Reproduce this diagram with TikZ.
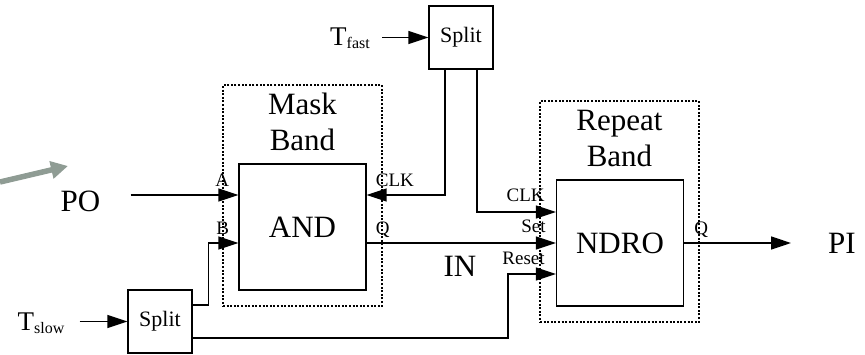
\documentclass[tikz,border=0pt]{standalone}
\usepackage{fontspec}
\setmainfont{Liberation Serif}
\usetikzlibrary{arrows.meta,positioning,calc}
\definecolor{pointgrey}{HTML}{8F9C94}
\newcommand{\tsub}[1]{{\fontsize{16}{18}\selectfont\raisebox{-3pt}{#1}}}
\tikzset{
  gate/.style={rectangle, draw=black, line width=1.3pt, minimum width=127pt, minimum height=126pt, inner sep=0pt, font=\fontsize{31}{33}\selectfont},
  splitbox/.style={rectangle, draw=black, line width=1.3pt, minimum width=64pt, minimum height=63pt, inner sep=0pt, font=\fontsize{22}{24}\selectfont},
  band/.style={rectangle, draw=black, dash pattern=on 2pt off 1.6pt, line width=1.3pt, minimum width=159pt, minimum height=221pt, inner sep=0pt},
  bandtitle/.style={align=center, font=\fontsize{31}{36}\selectfont, inner sep=0pt},
  signal/.style={font=\fontsize{31}{33}\selectfont, inner sep=0pt},
  clock/.style={font=\fontsize{27}{29}\selectfont, inner sep=0pt, anchor=base},
  portin/.style={anchor=base east, font=\fontsize{19}{20}\selectfont, inner sep=0pt},
  portout/.style={anchor=base west, font=\fontsize{19}{20}\selectfont, inner sep=0pt},
  flow/.style={-{Triangle[length=20pt,width=13pt]}, line width=1.4pt},
  pointer/.style={-{Triangle[length=17pt,width=17pt]}, line width=5.5pt, draw=pointgrey},
}

\begin{document}
\begin{tikzpicture}[x=1pt,y=-1pt]
  \useasboundingbox (0,0) rectangle (865,354);
  % blocks
  \node[band] (maskband) at (302.5,195.5) {};
  \node[band] (repeatband) at (619.5,211.5) {};
  \node[bandtitle] (masktitle) at ($(maskband.north)+(0,38)$) {Mask\\Band};
  \node[bandtitle] (repeattitle) at ($(repeatband.north)+(0,38)$) {Repeat\\Band};
  \node[gate] (and) at (302.5,227) {AND};
  \node[gate] (ndro) at (620,243) {NDRO};
  \node[splitbox] (splitfast) at (461,37.5) {Split};
  \node[splitbox] (splitslow) at (160,321.5) {Split};
  % ports
  \coordinate (andA) at ($(and.west)+(0,-32)$);
  \coordinate (andB) at ($(and.west)+(0,16)$);
  \coordinate (andclk) at ($(and.east)+(0,-32)$);
  \coordinate (andq) at ($(and.east)+(0,16)$);
  \coordinate (ndroclk) at ($(ndro.west)+(0,-31)$);
  \coordinate (ndroreset) at ($(ndro.west)+(0,31)$);
  \node[portin] (labA) at ($(andA)+(-9,-9)$) {A};
  \node[portin] (labB) at ($(andB)+(-9,-9)$) {B};
  \node[portout] (labclk) at ($(andclk)+(9,-9)$) {CLK};
  \node[portout] (labq) at ($(andq)+(9,-9)$) {Q};
  \node[portin] (labnclk) at ($(ndroclk)+(-11,-11)$) {CLK};
  \node[portin] (labset) at ($(ndro.west)+(-10,-11)$) {Set};
  \node[portin] (labreset) at ($(ndroreset)+(-11,-10)$) {Reset};
  \node[portout] (labnq) at ($(ndro.east)+(10,-9)$) {Q};
  % signals
  \node[signal, anchor=base] (po) at (80.5,211) {PO};
  \node[signal] (pi) at (842,243) {PI};
  \node[signal] (in) at (460,266) {IN};
  \node[clock] (tfast) at (350,45) {T\tsub{fast}};
  \node[clock] (tslow) at (41,330) {T\tsub{slow}};
  \coordinate (pointtail) at (0,182);
  \coordinate (pointtip) at (68,166);
  % wires
  \draw[pointer] (pointtail) -- (pointtip);
  \draw[flow] ([xshift=12pt]tfast.east |- splitfast.west) -- (splitfast.west);
  \draw[flow] ([xshift=15pt]tslow.east |- splitslow.west) -- (splitslow.west);
  \draw[flow] ([xshift=30pt]po.east |- andA) -- (andA);
  \draw[flow] ([xshift=-16pt]splitfast.south) |- (andclk);
  \draw[flow] ([xshift=16pt]splitfast.south) |- (ndroclk);
  \draw[flow] (andq) -- (andq -| ndro.west);
  \draw[flow] ([yshift=16.5pt]splitslow.east) -- ++(16,0) |- (andB);
  \draw[flow] ([yshift=-16.5pt]splitslow.east) -| ([xshift=-48pt]ndroreset) -- (ndroreset);
  \draw[flow] (ndro.east) -- ([xshift=-37pt]pi.west);
\end{tikzpicture}
\end{document}
